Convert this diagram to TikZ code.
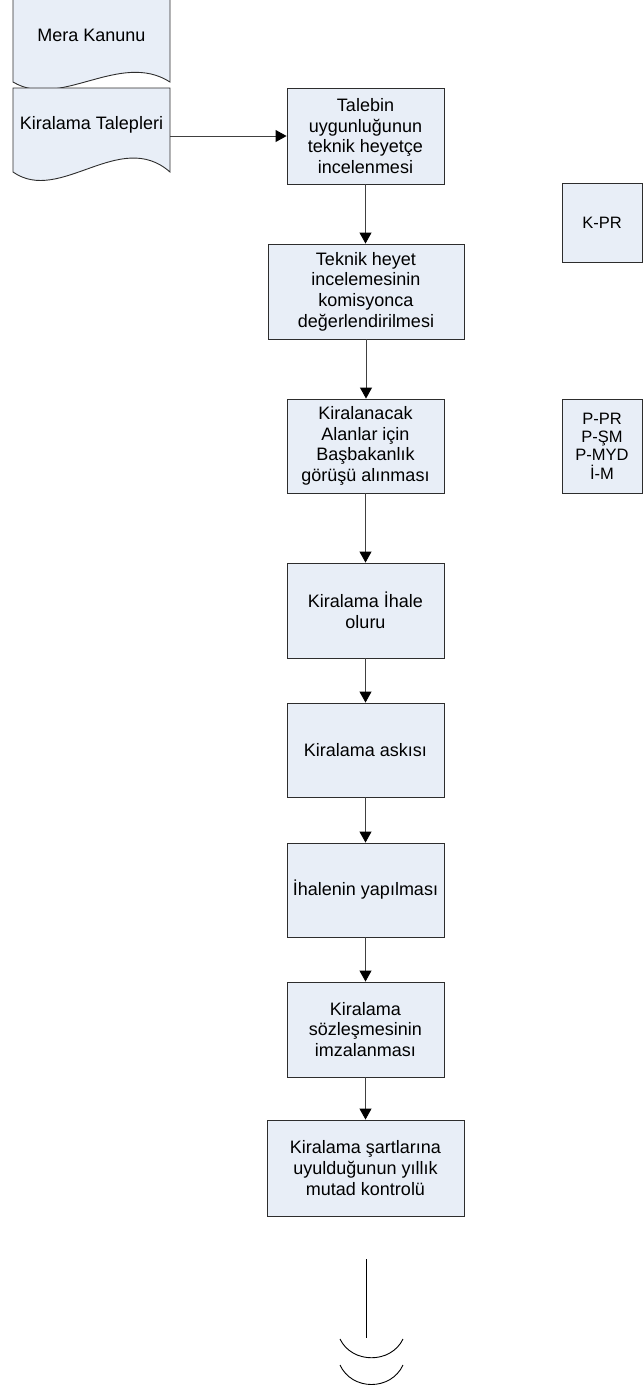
\documentclass[tikz,border=0pt]{standalone}
\usepackage{fontspec}
\setmainfont{Liberation Sans}
\usetikzlibrary{arrows.meta,positioning,calc}
\definecolor{boxfill}{RGB}{232,238,247}
\definecolor{boxline}{RGB}{45,45,45}
\tikzset{
  procbox/.style={draw=boxline,fill=boxfill,line width=0.9pt,inner sep=0pt,align=center,
    minimum width=157pt,minimum height=95pt,font=\fontsize{18}{20.7}\selectfont},
  widebox/.style={procbox,minimum width=196pt},
  sidebox/.style={procbox,minimum width=80pt,font=\fontsize{16.5}{18.3}\selectfont},
  doctext/.style={inner sep=0pt,minimum width=157pt,align=center,font=\fontsize{18}{20.7}\selectfont},
  docshape/.style={draw=boxline,fill=boxfill,line width=0.9pt},
  flow/.style={draw=black!75,line width=0.9pt,-{Triangle[length=11pt,width=12pt,color=black]}},
}
\begin{document}
\begin{tikzpicture}[x=1pt,y=-1pt]
        \useasboundingbox (0,0) rectangle (643,1385);
        \clip (0,0) rectangle (643,1385);
        \draw[docshape] (13,82) -- (13,-5) -- (170,-5) -- (170,82) .. controls (120,50) and (60,110) .. (13,82) -- cycle;
        \draw[docshape] (13,172) -- (13,88) -- (170,88) -- (170,172) .. controls (120,128) and (60,205) .. (13,172) -- cycle;
        \node[doctext] (mera) at (91.5,35) {Mera Kanunu};
        \node[doctext] (talep) at (91.5,125) {Kiralama Talepleri};
        \node[procbox,minimum height=96pt] (b1) at (365.5,136) {Talebin\\uygunluğunun\\teknik heyetçe\\incelenmesi};
        \node[widebox] (b2) at (366,291.5) {Teknik heyet\\incelemesinin\\komisyonca\\değerlendirilmesi};
        \node[procbox,minimum height=94pt] (b3) at (365.5,446) {Kiralanacak\\Alanlar için\\Başbakanlık\\görüşü alınması};
        \node[procbox] (b4) at (365.5,610.5) {Kiralama İhale\\oluru};
        \node[procbox,minimum height=94pt] (b5) at (365.5,750) {Kiralama askısı};
        \node[procbox,minimum height=94pt] (b6) at (365.5,890) {İhalenin yapılması};
        \node[procbox] (b7) at (365.5,1029.5) {Kiralama\\sözleşmesinin\\imzalanması};
        \node[widebox,minimum width=197pt,minimum height=96pt] (b8) at (365.5,1168) {Kiralama şartlarına\\uyulduğunun yıllık\\mutad kontrolü};
        \node[sidebox,minimum height=79pt] (kpr) at (602,222.5) {K-PR};
        \node[sidebox,minimum height=94pt] (ppr) at (602,446) {P-PR\\P-ŞM\\P-MYD\\İ-M};
        \draw[flow] (talep.east |- b1.west) -- (b1.west);
        \foreach \a/\b in {b1/b2,b2/b3,b3/b4,b4/b5,b5/b6,b6/b7,b7/b8}
          \draw[flow] (\a.south) -- (\a.south |- \b.north);
        \coordinate (tailtop) at (366,1259);
        \coordinate (tailend) at (366,1338);
        \draw[line width=0.9pt] (tailtop) -- (tailend);
        \draw[line width=0.9pt] (340,1339) .. controls (352,1364) and (391,1364) .. (403,1339);
        \draw[line width=0.9pt] (340,1365) .. controls (352,1391) and (391,1391) .. (403,1365);
\end{tikzpicture}
\end{document}
